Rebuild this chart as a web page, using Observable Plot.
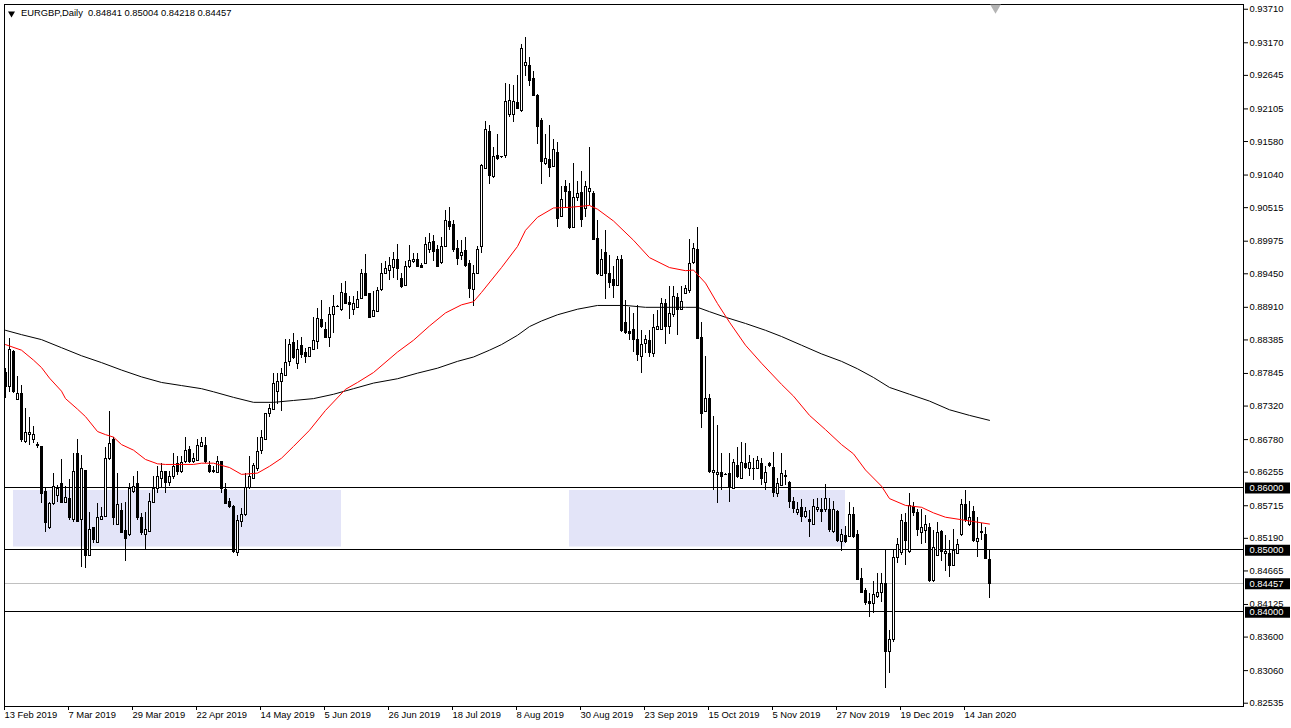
<!DOCTYPE html>
<html>
<head>
<meta charset="utf-8">
<script src="https://cdn.jsdelivr.net/npm/d3@7"></script>
<script src="https://cdn.jsdelivr.net/npm/@observablehq/plot@0.6"></script>
<style>
html,body{margin:0;padding:0;background:#fff;}
#chart svg{display:block;}
</style>
</head>
<body>
<div id="chart"></div>
<script>
// ---------- DATA ----------
const symbol = "EURGBP";
const timeframe = "Daily";

// daily candles, bar 0 = 13 Feb 2019 ... bar 246 = 22 Jan 2020
const opens = [
0.8785,0.8762,0.8819,0.8742,0.8751,0.8674,0.8685,0.8677,0.8670,0.8666,
0.8594,0.8536,0.8574,0.8587,0.8606,0.8576,0.8582,0.8549,0.8655,0.8548,
0.8628,0.8491,0.8535,0.8511,0.8549,0.8553,0.8646,0.8677,0.8541,0.8563,
0.8531,0.8524,0.8594,0.8606,0.8552,0.8525,0.8529,0.8576,0.8599,0.8615,
0.8626,0.8608,0.8617,0.8639,0.8626,0.8642,0.8661,0.8642,0.8644,0.8666,
0.8667,0.8636,0.8628,0.8624,0.8642,0.8597,0.8577,0.8570,0.8495,0.8545,
0.8556,0.8600,0.8615,0.8630,0.8659,0.8677,0.8720,0.8726,0.8755,0.8771,
0.8781,0.8803,0.8833,0.8799,0.8828,0.8817,0.8811,0.8823,0.8835,0.8871,
0.8855,0.8842,0.8878,0.8892,0.8887,0.8913,0.8898,0.8887,0.8890,0.8905,
0.8944,0.8912,0.8876,0.8883,0.8919,0.8945,0.8950,0.8955,0.8968,0.8937,
0.8925,0.8956,0.8964,0.8967,0.8958,0.8961,0.8983,0.8996,0.8983,0.8962,
0.8988,0.9029,0.9023,0.8985,0.8973,0.8982,0.8961,0.8919,0.8945,0.8988,
0.9114,0.9173,0.9101,0.9134,0.9133,0.9134,0.9200,0.9200,0.9220,0.9207,
0.9279,0.9279,0.9259,0.9232,0.9191,0.9121,0.9129,0.9117,0.9139,0.9036,
0.9084,0.9076,0.9019,0.9067,0.9075,0.9050,0.9076,0.9074,0.9001,0.8941,
0.8978,0.8944,0.8935,0.8926,0.8967,0.8866,0.8851,0.8854,0.8839,0.8811,
0.8832,0.8837,0.8816,0.8855,0.8855,0.8896,0.8860,0.8878,0.8906,0.8887,
0.8913,0.8917,0.8962,0.8984,0.8842,0.8722,0.8744,0.8624,0.8621,0.8624,
0.8621,0.8622,0.8599,0.8635,0.8615,0.8638,0.8630,0.8631,0.8631,0.8638,
0.8608,0.8638,0.8633,0.8590,0.8604,0.8617,0.8608,0.8578,0.8560,0.8568,
0.8553,0.8548,0.8541,0.8565,0.8565,0.8564,0.8565,0.8529,0.8561,0.8513,
0.8522,0.8521,0.8556,0.8524,0.8454,0.8435,0.8416,0.8414,0.8424,0.8431,
0.8445,0.8336,0.8356,0.8488,0.8495,0.8543,0.8497,0.8569,0.8560,0.8527,
0.8531,0.8536,0.8450,0.8491,0.8529,0.8494,0.8493,0.8475,0.8494,0.8525,
0.8572,0.8540,0.8561,0.8513,0.8530,0.8524,0.84841
];
const highs = [
0.8793,0.8840,0.8822,0.8779,0.8765,0.8728,0.8714,0.8699,0.8674,0.8666,
0.8599,0.8577,0.8623,0.8604,0.8646,0.8602,0.8614,0.8656,0.8678,0.8653,
0.8628,0.8561,0.8537,0.8575,0.8569,0.8666,0.8724,0.8682,0.8624,0.8575,
0.8577,0.8608,0.8618,0.8626,0.8559,0.8560,0.8592,0.8618,0.8634,0.8640,
0.8627,0.8626,0.8656,0.8650,0.8650,0.8681,0.8667,0.8655,0.8678,0.8681,
0.8681,0.8642,0.8634,0.8650,0.8643,0.8607,0.8583,0.8572,0.8556,0.8567,
0.8623,0.8650,0.8640,0.8681,0.8693,0.8720,0.8735,0.8784,0.8785,0.8792,
0.8839,0.8839,0.8849,0.8838,0.8842,0.8824,0.8827,0.8875,0.8889,0.8902,
0.8866,0.8890,0.8910,0.8894,0.8930,0.8932,0.8908,0.8908,0.8916,0.8952,
0.8976,0.8913,0.8917,0.8923,0.8961,0.8964,0.8972,0.8980,0.8992,0.8946,
0.8965,0.8991,0.8977,0.8977,0.8962,0.9004,0.9010,0.9007,0.8991,0.9004,
0.9047,0.9051,0.9031,0.8998,0.8999,0.9003,0.8967,0.8959,0.8989,0.9121,
0.9191,0.9184,0.9148,0.9169,0.9134,0.9251,0.9250,0.9248,0.9264,0.9315,
0.9325,0.9294,0.9271,0.9234,0.9195,0.9170,0.9184,0.9161,0.9157,0.9085,
0.9095,0.9090,0.9122,0.9093,0.9109,0.9093,0.9148,0.9077,0.9031,0.8984,
0.9015,0.8975,0.8956,0.8973,0.8975,0.8902,0.8891,0.8881,0.8894,0.8854,
0.8846,0.8854,0.8880,0.8886,0.8906,0.8903,0.8925,0.8924,0.8914,0.8924,
0.8926,0.9000,0.8994,0.9019,0.8866,0.8812,0.8751,0.8715,0.8701,0.8655,
0.8623,0.8655,0.8646,0.8666,0.8674,0.8671,0.8653,0.8647,0.8650,0.8647,
0.8634,0.8641,0.8658,0.8615,0.8655,0.8628,0.8610,0.8584,0.8576,0.8581,
0.8569,0.8564,0.8581,0.8583,0.8583,0.8606,0.8583,0.8579,0.8564,0.8533,
0.8538,0.8576,0.8569,0.8532,0.8470,0.8438,0.8430,0.8449,0.8462,0.8463,
0.8500,0.8371,0.8500,0.8518,0.8557,0.8559,0.8592,0.8577,0.8565,0.8565,
0.8556,0.8543,0.8531,0.8545,0.8532,0.8524,0.8516,0.8533,0.8517,0.8581,
0.8596,0.8579,0.8571,0.8553,0.8543,0.8537,0.85004
];
const lows = [
0.8744,0.8754,0.8752,0.8741,0.8674,0.8672,0.8669,0.8672,0.8663,0.8575,
0.8529,0.8534,0.8572,0.8577,0.8576,0.8575,0.8548,0.8545,0.8544,0.8472,
0.8471,0.8490,0.8511,0.8510,0.8548,0.8552,0.8645,0.8540,0.8540,0.8526,
0.8482,0.8522,0.8591,0.8548,0.8524,0.8501,0.8528,0.8575,0.8592,0.8599,
0.8592,0.8603,0.8613,0.8620,0.8624,0.8640,0.8640,0.8639,0.8643,0.8665,
0.8640,0.8623,0.8624,0.8623,0.8591,0.8574,0.8567,0.8495,0.8490,0.8537,
0.8554,0.8597,0.8613,0.8627,0.8654,0.8676,0.8714,0.8725,0.8735,0.8724,
0.8780,0.8795,0.8807,0.8791,0.8808,0.8800,0.8810,0.8822,0.8823,0.8857,
0.8840,0.8826,0.8849,0.8891,0.8885,0.8896,0.8871,0.8878,0.8889,0.8903,
0.8909,0.8873,0.8875,0.8882,0.8917,0.8944,0.8934,0.8937,0.8935,0.8921,
0.8924,0.8953,0.8961,0.8955,0.8953,0.8960,0.8978,0.8965,0.8955,0.8960,
0.8987,0.9015,0.8980,0.8959,0.8967,0.8955,0.8905,0.8892,0.8944,0.8977,
0.9113,0.9089,0.9098,0.9128,0.9130,0.9130,0.9196,0.9188,0.9209,0.9205,
0.9263,0.9246,0.9231,0.9154,0.9089,0.9120,0.9100,0.9116,0.9020,0.9035,
0.9051,0.9016,0.9018,0.9062,0.9020,0.9036,0.9055,0.8998,0.8942,0.8940,
0.8903,0.8921,0.8905,0.8925,0.8851,0.8847,0.8838,0.8819,0.8803,0.8785,
0.8817,0.8811,0.8811,0.8853,0.8853,0.8831,0.8847,0.8875,0.8846,0.8886,
0.8912,0.8914,0.8960,0.8839,0.8696,0.8721,0.8624,0.8596,0.8575,0.8596,
0.8620,0.8577,0.8597,0.8615,0.8613,0.8630,0.8619,0.8612,0.8630,0.8604,
0.8596,0.8633,0.8585,0.8584,0.8603,0.8604,0.8567,0.8559,0.8556,0.8545,
0.8551,0.8521,0.8540,0.8561,0.8545,0.8561,0.8529,0.8527,0.8513,0.8498,
0.8511,0.8520,0.8518,0.8451,0.8430,0.8411,0.8392,0.8398,0.8422,0.8416,
0.8277,0.8302,0.8352,0.8478,0.8491,0.8475,0.8495,0.8554,0.8522,0.8509,
0.8511,0.8448,0.8448,0.8490,0.8481,0.8465,0.8456,0.8474,0.8493,0.8522,
0.8545,0.8538,0.8513,0.8488,0.8515,0.8485,0.84218
];
const closes = [
0.8762,0.8823,0.8754,0.8751,0.8678,0.8688,0.8689,0.8686,0.8667,0.8590,
0.8544,0.8574,0.8601,0.8599,0.8576,0.8584,0.8552,0.8626,0.8546,0.8630,
0.8491,0.8533,0.8516,0.8552,0.8553,0.8646,0.8671,0.8552,0.8572,0.8528,
0.8518,0.8599,0.8602,0.8551,0.8527,0.8533,0.8577,0.8599,0.8618,0.8626,
0.8608,0.8618,0.8634,0.8626,0.8640,0.8660,0.8642,0.8646,0.8667,0.8673,
0.8642,0.8626,0.8626,0.8642,0.8599,0.8575,0.8570,0.8497,0.8547,0.8557,
0.8600,0.8617,0.8636,0.8658,0.8681,0.8719,0.8728,0.8768,0.8771,0.8783,
0.8801,0.8831,0.8810,0.8823,0.8815,0.8811,0.8826,0.8837,0.8873,0.8859,
0.8842,0.8878,0.8892,0.8892,0.8914,0.8897,0.8894,0.8897,0.8902,0.8945,
0.8910,0.8874,0.8885,0.8917,0.8944,0.8953,0.8957,0.8968,0.8952,0.8924,
0.8956,0.8965,0.8967,0.8956,0.8955,0.8992,0.8994,0.8980,0.8956,0.8988,
0.9030,0.9021,0.8983,0.8969,0.8979,0.8958,0.8921,0.8945,0.8983,0.9118,
0.9176,0.9103,0.9133,0.9130,0.9133,0.9221,0.9223,0.9221,0.9211,0.9307,
0.9285,0.9256,0.9232,0.9181,0.9125,0.9130,0.9116,0.9145,0.9034,0.9064,
0.9076,0.9018,0.9067,0.9074,0.9032,0.9084,0.9082,0.8999,0.8945,0.8968,
0.8944,0.8930,0.8926,0.8968,0.8853,0.8849,0.8848,0.8838,0.8814,0.8830,
0.8839,0.8817,0.8858,0.8860,0.8897,0.8860,0.8880,0.8908,0.8887,0.8899,
0.8921,0.8960,0.8985,0.8840,0.8719,0.8744,0.8626,0.8628,0.8625,0.8617,
0.8621,0.8600,0.8640,0.8617,0.8640,0.8633,0.8640,0.8630,0.8643,0.8615,
0.8624,0.8635,0.8592,0.8606,0.8622,0.8620,0.8577,0.8567,0.8564,0.8554,
0.8561,0.8545,0.8569,0.8568,0.8561,0.8583,0.8532,0.8565,0.8515,0.8524,
0.8513,0.8556,0.8521,0.8452,0.8431,0.8415,0.8413,0.8427,0.8431,0.8446,
0.8336,0.8355,0.8488,0.8509,0.8547,0.8515,0.8571,0.8559,0.8532,0.8536,
0.8540,0.8450,0.8504,0.8527,0.8497,0.8497,0.8475,0.8499,0.8509,0.8572,
0.8548,0.8551,0.8515,0.8518,0.8527,0.8486,0.84457
];

// moving averages (bar index -> value)
const maFastBar = [0,4,7,9,11,14,15,18,20,23,25,27,29,32,35,38,40,47,49,52,56,59,63,66,69,72,76,80,85,88,92,98,102,106,110,114,117,119,124,128,130,133,137,141,146,148,152,157,161,166,170,172,175,178,181,185,189,194,197,201,205,209,212,215,219,221,225,229,232,235,239,242,246];
const maFastVal = [0.8831,0.8822,0.8806,0.8794,0.8777,0.8756,0.8744,0.8727,0.8715,0.8691,0.8686,0.8682,0.8670,0.8661,0.8646,0.8639,0.8638,0.8638,0.8640,0.8640,0.8633,0.8622,0.8624,0.8635,0.8648,0.8667,0.8693,0.8725,0.8759,0.8770,0.8786,0.8819,0.8838,0.8861,0.8882,0.8895,0.8900,0.8915,0.8955,0.8989,0.9015,0.9036,0.9051,0.9052,0.9055,0.9049,0.9030,0.8999,0.8971,0.8955,0.8950,0.8951,0.8930,0.8897,0.8867,0.8830,0.8801,0.8767,0.8748,0.8717,0.8694,0.8670,0.8655,0.8629,0.8603,0.8583,0.8572,0.8569,0.8560,0.8553,0.8549,0.8546,0.8542];
const maSlowBar = [0,4,9,14,19,24,29,34,39,44,49,52,57,62,67,72,77,82,87,92,98,103,108,113,117,121,124,128,131,134,138,143,148,155,160,165,170,173,176,180,185,190,194,199,204,209,213,217,221,226,231,236,241,246];
const maSlowVal = [0.8854,0.8847,0.8839,0.8826,0.8813,0.8802,0.8790,0.8779,0.8770,0.8765,0.8760,0.8755,0.8746,0.8738,0.8738,0.8741,0.8744,0.8751,0.8760,0.8769,0.8776,0.8785,0.8793,0.8804,0.8811,0.8822,0.8831,0.8846,0.8860,0.8869,0.8879,0.8888,0.8894,0.8894,0.8891,0.8891,0.8891,0.8891,0.8884,0.8875,0.8865,0.8854,0.8844,0.8830,0.8816,0.8804,0.8792,0.8778,0.8762,0.8751,0.8740,0.8726,0.8717,0.8709];

// horizontal levels, current bid and marked zones
const levels = [0.86000, 0.85000, 0.84000];
const bid = 0.84457;
const zoneFrom = [2, 141];
const zoneTo = [84, 210];
const zoneTop = [0.8596, 0.8596];
const zoneBottom = [0.8505, 0.8505];

// axes
const dateTickBars = [0,16,32,48,64,80,96,112,128,144,160,176,192,208,224,240];
const dateTickLabels = ["13 Feb 2019","7 Mar 2019","29 Mar 2019","22 Apr 2019","14 May 2019","5 Jun 2019","26 Jun 2019","18 Jul 2019","8 Aug 2019","30 Aug 2019","23 Sep 2019","15 Oct 2019","5 Nov 2019","27 Nov 2019","19 Dec 2019","14 Jan 2020"];
const priceTicks = [0.93710,0.93170,0.92645,0.92105,0.91580,0.91040,0.90515,0.89975,0.89450,0.88910,0.88385,0.87845,0.87320,0.86780,0.86255,0.85715,0.85190,0.84665,0.84125,0.83600,0.83060,0.82535];

// ---------- BUILD ----------
const bars = opens.map((o, i) => ({i, o, h: highs[i], l: lows[i], c: closes[i]}));
const upBars = bars.filter(d => d.c > d.o);
const maFast = maFastBar.map((b, k) => ({i: b, v: maFastVal[k]}));
const maSlow = maSlowBar.map((b, k) => ({i: b, v: maSlowVal[k]}));
const zones = zoneFrom.map((f, k) => ({x1: f, x2: zoneTo[k], y1: zoneBottom[k], y2: zoneTop[k]}));
const fmt5 = d3.format(".5f");
const last = bars[bars.length - 1];
const header = `${symbol},${timeframe}  ${[last.o, last.h, last.l, last.c].map(fmt5).join(" ")}`;
const labelled = [...levels, bid];

const chart = Plot.plot({
  width: 1291,
  height: 728,
  marginTop: 4,
  marginBottom: 22,
  marginLeft: 4,
  marginRight: 48,
  style: {fontFamily: "'Liberation Sans', Arial, sans-serif", fontSize: "9.4px", background: "#ffffff", color: "#000000", overflow: "visible"},
  x: {type: "linear", domain: [-0.25, 309.5], axis: null},
  y: {type: "linear", domain: [0.824821, 0.937864], axis: null},
  marks: [
    Plot.rect(zones, {x1: "x1", x2: "x2", y1: "y1", y2: "y2", fill: "#e3e4f8"}),
    Plot.ruleY(levels, {stroke: "#000", dy: -0.5, shapeRendering: "crispEdges"}),
    Plot.ruleY([bid], {stroke: "#c0c0c0", dy: -0.5, shapeRendering: "crispEdges"}),
    Plot.ruleX(bars, {x: "i", y1: "l", y2: "h", stroke: "#000", shapeRendering: "crispEdges"}),
    Plot.rect(bars, {x1: d => d.i - 0.5, x2: d => d.i + 0.5, y1: d => Math.min(d.o, d.c), y2: d => Math.max(d.o, d.c), fill: "#000", insetLeft: 1, insetTop: -0.5, insetBottom: -0.5, shapeRendering: "crispEdges"}),
    Plot.rect(upBars, {x1: d => d.i - 0.5, x2: d => d.i + 0.5, y1: d => d.o, y2: d => d.c, fill: "#fff", insetLeft: 2, insetRight: 1, insetTop: 0.5, insetBottom: 0.5, shapeRendering: "crispEdges"}),
    Plot.line(maSlow, {x: "i", y: "v", stroke: "#000", strokeWidth: 1}),
    Plot.line(maFast, {x: "i", y: "v", stroke: "#ff0000", strokeWidth: 1}),
    Plot.frame({stroke: "#000"}),
    Plot.axisX(dateTickBars, {anchor: "bottom", tickSize: 4, tickPadding: 1, tickFormat: d => dateTickLabels[dateTickBars.indexOf(d)], textAnchor: "start", dx: -1}),
    Plot.axisY(priceTicks, {anchor: "right", tickSize: 4, tickPadding: 2, tickFormat: fmt5}),
    Plot.ruleY(labelled, {stroke: "#000", strokeWidth: 11, insetLeft: 1241, insetRight: -47}),
    Plot.text(labelled, {y: d => d, frameAnchor: "right", text: d => fmt5(d), textAnchor: "start", dx: 6, fill: "#fff"}),
    Plot.text([header], {frameAnchor: "top-left", text: d => d, textAnchor: "start", lineAnchor: "top", dx: 16.5, dy: 5}),
    Plot.dot([0], {frameAnchor: "top-left", symbol: "triangle", rotate: 180, r: 2.6, fill: "#000", stroke: "none", dx: 7, dy: 9}),
    Plot.dot([bars.length + 0.5], {x: d => d, frameAnchor: "top", symbol: "triangle", rotate: 180, r: 4, fill: "#b4b4b4", stroke: "none", dy: 3})
  ]
});
document.getElementById("chart").appendChild(chart);
</script>
</body>
</html>
